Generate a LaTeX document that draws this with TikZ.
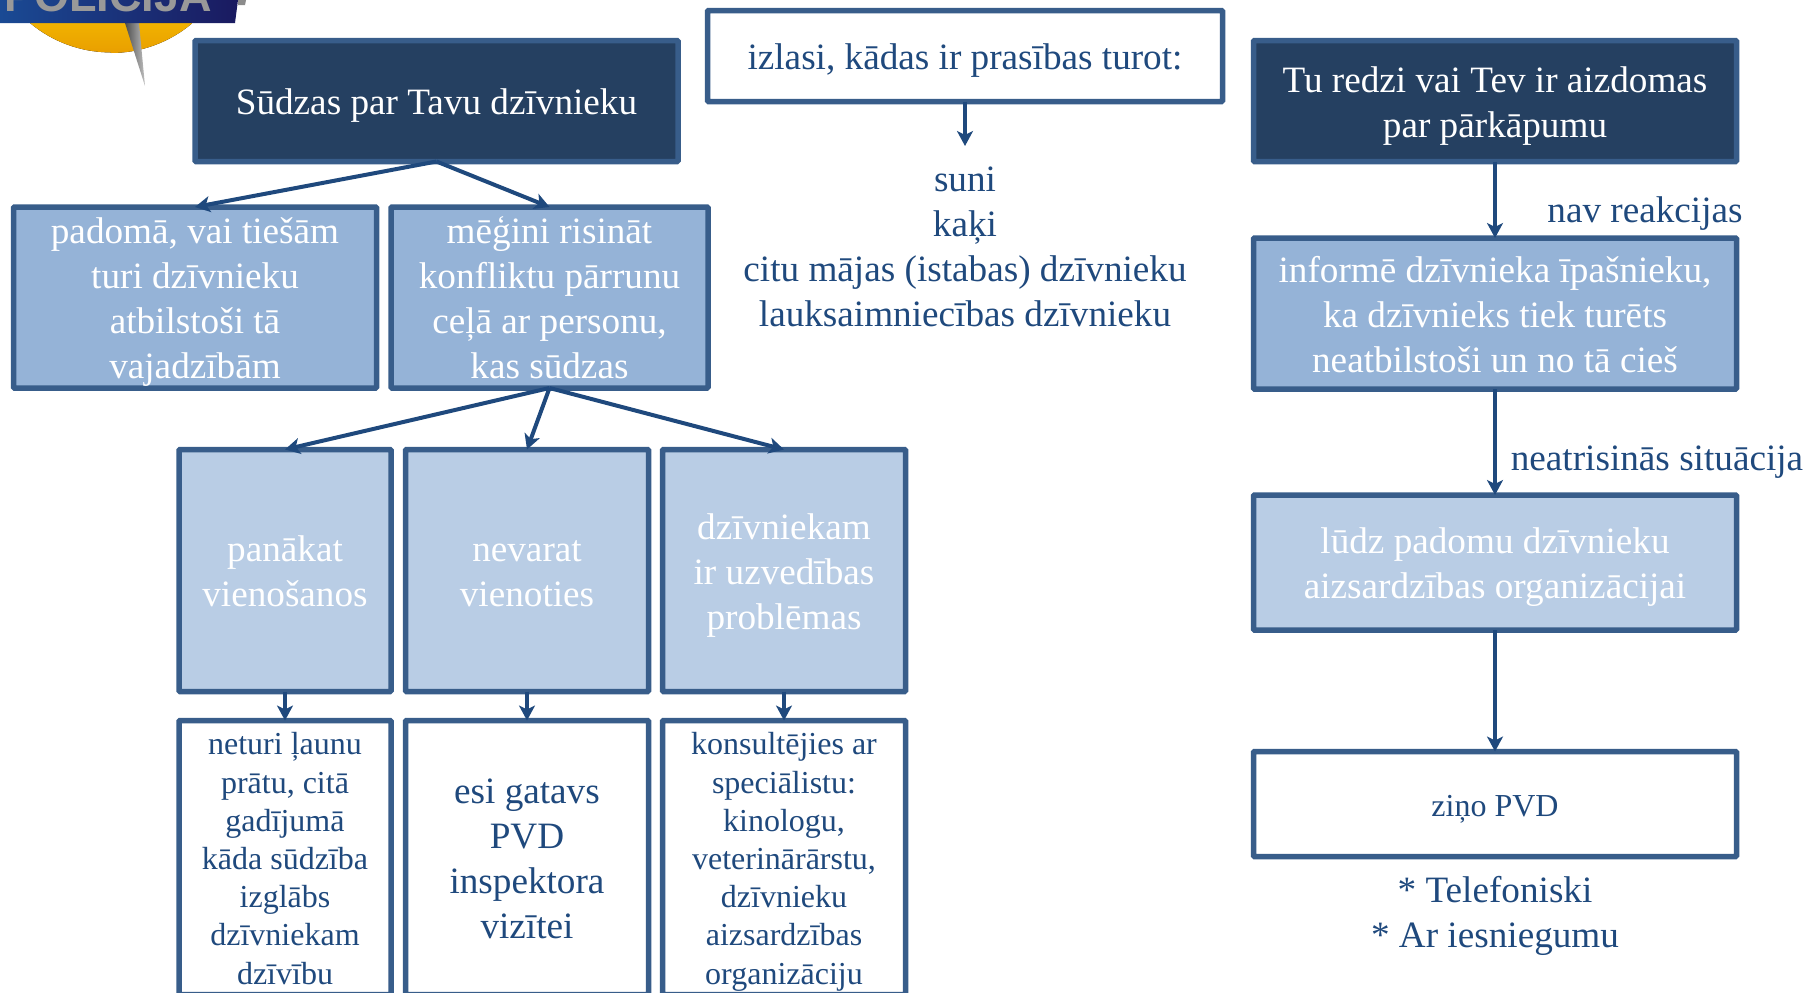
\documentclass[tikz,border=0pt]{standalone}
\usepackage{fontspec}
\setmainfont{Liberation Serif}
\setsansfont{Liberation Sans}
\usetikzlibrary{arrows.meta}
\definecolor{darkbox}{HTML}{254061}
\definecolor{midbox}{HTML}{95B3D7}
\definecolor{lightbox}{HTML}{B9CDE5}
\definecolor{boxline}{HTML}{385D8A}
\definecolor{arrowline}{HTML}{1F497D}
\definecolor{sunlight}{HTML}{F7C000}
\definecolor{sundark}{HTML}{E99F00}
\definecolor{bannerblue}{HTML}{1A4A94}
\definecolor{bannernavy}{HTML}{1A1A60}
\def\bigtext{\fontsize{37.2}{45}\selectfont}
\def\smalltext{\fontsize{32}{38.2}\selectfont}
\def\ls{\rule[-.22em]{0pt}{1.19em}}

\begin{document}
\begin{tikzpicture}[x=1pt,y=-1pt,every node/.style={align=center,inner sep=0pt,outer sep=0pt,font=\bigtext},
box/.style={draw=boxline,line width=5.5pt,rounded corners=1pt},
darknode/.style={box,fill=darkbox,text=white},
midnode/.style={box,fill=midbox,text=white},
lightnode/.style={box,fill=lightbox,text=white},
whitenode/.style={box,fill=white,text=arrowline},
plaintext/.style={text=arrowline},
link/.style={draw=arrowline,line width=4pt,-{Stealth[length=15pt,width=16pt,inset=4pt]}}
]
\useasboundingbox (0,0) rectangle (1810,993);
% logo
\fill[top color=sunlight,bottom color=sundark] (111,53) arc (90:50:125.7) -- (192,0) -- (30,0) -- (30,23) arc (130:90:125.7) -- cycle;
\shade[left color=black!70,right color=black!25] (125,23) -- (145,86) -- (139,23) -- cycle;
\fill[black!45] (238,0) -- (238,5) -- (245,5) -- (246,0) -- cycle;
\shade[left color=bannerblue,right color=bannernavy] (0,0) -- (238,0) -- (235,23) -- (0,23) -- cycle;
\begin{scope}
\clip (0,0) rectangle (238,23);
\node[font=\fontsize{45}{45}\sffamily\bfseries\selectfont,text=black!40,anchor=base] (logotext) at (108,12) {POLICIJA};
\end{scope}

% left column
\node[darknode,minimum width=483pt,minimum height=121pt] (sudzas) at (436.5,101) {\ls Sūdzas par Tavu dzīvnieku\ls};
\node[midnode,minimum width=363pt,minimum height=181pt] (padoma) at (195,297.5) {\ls padomā, vai tiešām \\ turi dzīvnieku \\ atbilstoši tā \\ vajadzībām\ls};
\node[midnode,minimum width=317pt,minimum height=181pt] (megini) at (549.5,297.5) {\ls mēģini risināt \\ konfliktu pārrunu \\ ceļā ar personu, \\ kas sūdzas\ls};
\node[lightnode,minimum width=212pt,minimum height=242pt] (panakat) at (285,570.5) {\ls panākat \\ vienošanos\ls};
\node[lightnode,minimum width=243pt,minimum height=242pt] (nevarat) at (527,570.5) {\ls nevarat \\ vienoties\ls};
\node[lightnode,minimum width=243pt,minimum height=242pt] (problemas) at (784,570.5) {\ls dzīvniekam \\ ir uzvedības \\ problēmas\ls};
\node[whitenode,font=\smalltext,minimum width=212pt,minimum height=274pt] (launu) at (285,857.5) {\ls neturi ļaunu \\ prātu, citā \\ gadījumā \\ kāda sūdzība \\ izglābs \\ dzīvniekam \\ dzīvību\ls};
\node[whitenode,minimum width=243pt,minimum height=274pt] (gatavs) at (527,857.5) {\ls esi gatavs \\ PVD \\ inspektora \\ vizītei\ls};
\node[whitenode,font=\smalltext,minimum width=243pt,minimum height=274pt] (konsulte) at (784,857.5) {\ls konsultējies ar \\ speciālistu: \\ kinologu, \\ veterinārārstu, \\ dzīvnieku \\ aizsardzības \\ organizāciju\ls};
\draw[link] (sudzas.south) -- (padoma.north);
\draw[link] (sudzas.south) -- (megini.north);
\draw[link] (megini.south) -- (panakat.north);
\draw[link] (megini.south) -- (nevarat.north);
\draw[link] (megini.south) -- (problemas.north);
\draw[link] (panakat.south) -- (launu.north);
\draw[link] (nevarat.south) -- (gatavs.north);
\draw[link] (problemas.south) -- (konsulte.north);

% middle column
\node[whitenode,minimum width=515pt,minimum height=91pt] (izlasi) at (965,56) {\ls izlasi, kādas ir prasības turot:\ls};
\coordinate (izlasiend) at (965,146);
\node[plaintext,anchor=north] (dzivnieki) at (965,167) {suni \\ kaķi \\ citu mājas (istabas) dzīvnieku \\ lauksaimniecības dzīvnieku};
\draw[link] (izlasi.south) -- (izlasiend);

% right column
\node[darknode,minimum width=483pt,minimum height=121pt] (redzi) at (1495,101) {\ls Tu redzi vai Tev ir aizdomas \\ par pārkāpumu\ls};
\node[midnode,minimum width=483pt,minimum height=151pt] (informe) at (1495,313.5) {\ls informē dzīvnieka īpašnieku, \\ ka dzīvnieks tiek turēts \\ neatbilstoši un no tā cieš\ls};
\node[lightnode,minimum width=483pt,minimum height=135pt] (ludz) at (1495,562.5) {\ls lūdz padomu dzīvnieku \\ aizsardzības organizācijai\ls};
\node[whitenode,font=\smalltext,minimum width=483pt,minimum height=105pt] (zino) at (1495,804) {\ls ziņo PVD\ls};
\node[plaintext] (nereakcija) at (1645,213.5) {nav reakcijas};
\node[plaintext] (situacija) at (1657,462.5) {neatrisinās situācija};
\node[plaintext] (veidi) at (1495,915.5) {* Telefoniski \\ * Ar iesniegumu};
\draw[link] (redzi.south) -- (informe.north);
\draw[link] (informe.south) -- (ludz.north);
\draw[link] (ludz.south) -- (zino.north);
\end{tikzpicture}
\end{document}
